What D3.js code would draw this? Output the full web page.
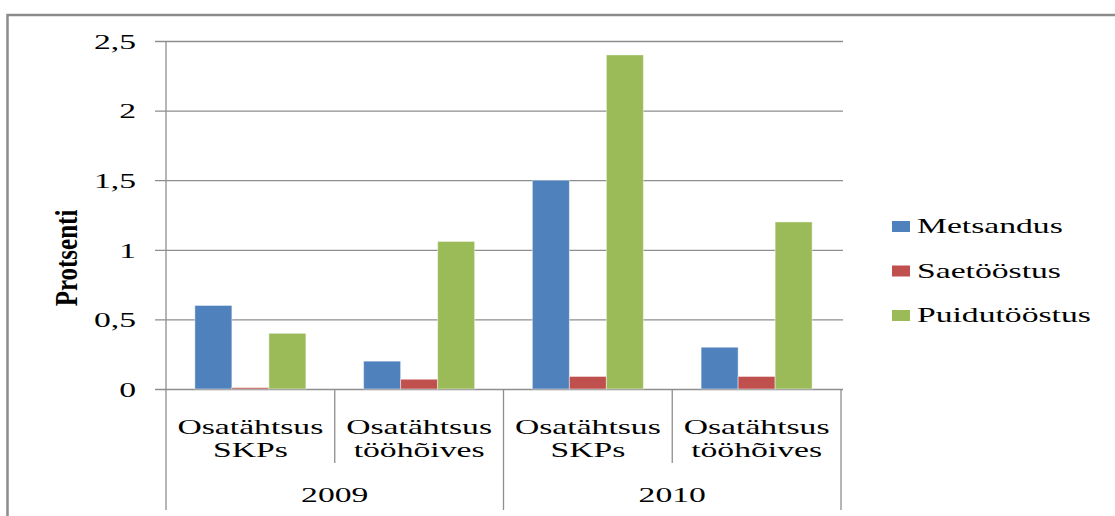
<!DOCTYPE html>
<meta charset="utf-8">
<html>
<head>
  <script src="https://d3js.org/d3.v7.min.js"></script>
  <style>
    body { margin: 0; background: #fff; }
    text { font-family: 'Liberation Serif', 'Times New Roman', serif; fill: #000; }
    .grid line { stroke: #8e8e8e; stroke-width: 1.3; }
    .grid path { display: none; }
  </style>
</head>
<body>
  <script>
    // data
    var years = ['2009', '2010'];
    var categories = ['Osatähtsus SKPs', 'Osatähtsus tööhõives', 'Osatähtsus SKPs', 'Osatähtsus tööhõives'];
    var series = ['Metsandus', 'Saetööstus', 'Puidutööstus'];
    var metsandus = [0.6, 0.2, 1.5, 0.3];
    var saetoostus = [0.01, 0.07, 0.09, 0.09];
    var puidutoostus = [0.4, 1.06, 2.4, 1.2];
    var yTicks = [0, 0.5, 1, 1.5, 2, 2.5];
    var colors = ['#4f81bd', '#c0504d', '#9bbb59'];

    var values = [metsandus, saetoostus, puidutoostus];
    var SX = 1.53; // the picture is stretched sideways

    var W = 1115, H = 516;
    var m = { left: 166, right: 841, top: 41, bottom: 389 };

    var svg = d3.select('body').append('svg')
      .attr('width', W)
      .attr('height', H);

    // frame
    svg.append('rect')
      .attr('x', 7.5).attr('y', 15)
      .attr('width', 1130).attr('height', 540)
      .attr('fill', 'none')
      .attr('stroke', '#8c8c8c')
      .attr('stroke-width', 2.5);

    var y = d3.scaleLinear().domain([0, 2.5]).range([m.bottom, m.top]);

    var x0 = d3.scaleBand()
      .domain(d3.range(categories.length))
      .range([m.left, m.right])
      .padding(0);

    var x1 = d3.scaleBand()
      .domain(series)
      .range([0, x0.bandwidth()])
      .paddingInner(0)
      .paddingOuter(0.78);

    var fmt = d3.formatLocale({ decimal: ',', thousands: ' ', grouping: [3], currency: ['', ''] }).format('~g');

    // gridlines + y labels
    var yAxis = svg.append('g')
      .attr('class', 'grid')
      .attr('transform', 'translate(155,0)')
      .call(d3.axisLeft(y)
        .tickValues(yTicks)
        .tickSize(-(843 - 155))
        .tickPadding(19)
        .tickFormat(fmt));

    yAxis.selectAll('text')
      .attr('x', null)
      .attr('dy', '0.33em')
      .attr('transform', 'translate(-19,0) scale(' + SX + ',1)')
      .style('font-size', '22px')
      .style('text-anchor', 'end');

    // y axis line
    svg.append('line')
      .attr('x1', m.left).attr('x2', m.left)
      .attr('y1', m.top).attr('y2', 510)
      .attr('stroke', '#8e8e8e').attr('stroke-width', 1.3);

    // bars
    series.forEach(function (s, si) {
      svg.append('g').selectAll('rect')
        .data(values[si])
        .enter()
        .append('rect')
        .attr('x', (d, i) => x0(i) + x1(s))
        .attr('width', x1.bandwidth())
        .attr('y', d => y(d))
        .attr('height', d => y(0) - y(d))
        .attr('fill', colors[si])
        .attr('stroke', '#ffffff')
        .attr('stroke-opacity', 0.45)
        .attr('stroke-width', 1);
    });

    // category separators
    var nPerYear = categories.length / years.length;
    d3.range(1, categories.length + 1).forEach(function (i) {
      var xx = i < categories.length ? x0(i) : m.right;
      svg.append('line')
        .attr('x1', xx).attr('x2', xx)
        .attr('y1', m.bottom)
        .attr('y2', i % nPerYear === 0 ? 510 : 463)
        .attr('stroke', '#8e8e8e').attr('stroke-width', 1.3);
    });

    // category labels
    categories.forEach(function (c, i) {
      var cx = x0(i) + x0.bandwidth() / 2;
      c.split(' ').forEach(function (line, li) {
        svg.append('text')
          .attr('transform', 'translate(' + cx + ',' + (434 + li * 23) + ') scale(' + SX + ',1)')
          .attr('text-anchor', 'middle')
          .style('font-size', '22px')
          .text(line);
      });
    });

    // year labels
    years.forEach(function (yr, j) {
      var a = x0(j * nPerYear);
      var b = x0((j + 1) * nPerYear - 1) + x0.bandwidth();
      svg.append('text')
        .attr('transform', 'translate(' + (a + b) / 2 + ',502) scale(' + SX + ',1)')
        .attr('text-anchor', 'middle')
        .style('font-size', '22px')
        .text(yr);
    });

    // y title
    svg.append('text')
      .attr('transform', 'translate(77,258) scale(1.3,1) rotate(-90)')
      .attr('text-anchor', 'middle')
      .style('font-size', '25px')
      .style('font-weight', 'bold')
      .text('Protsenti');

    // legend
    var legend = svg.append('g')
      .selectAll('g')
      .data(series)
      .enter()
      .append('g')
      .attr('transform', (d, i) => 'translate(892,' + (233 + i * 44.5) + ') scale(' + SX + ',1)');

    legend.append('rect')
      .attr('x', 0).attr('y', -12)
      .attr('width', 18 / SX).attr('height', 11)
      .attr('fill', (d, i) => colors[i]);

    legend.append('text')
      .attr('x', 25 / SX)
      .style('font-size', '22px')
      .text(d => d);
  </script>
</body>
</html>
